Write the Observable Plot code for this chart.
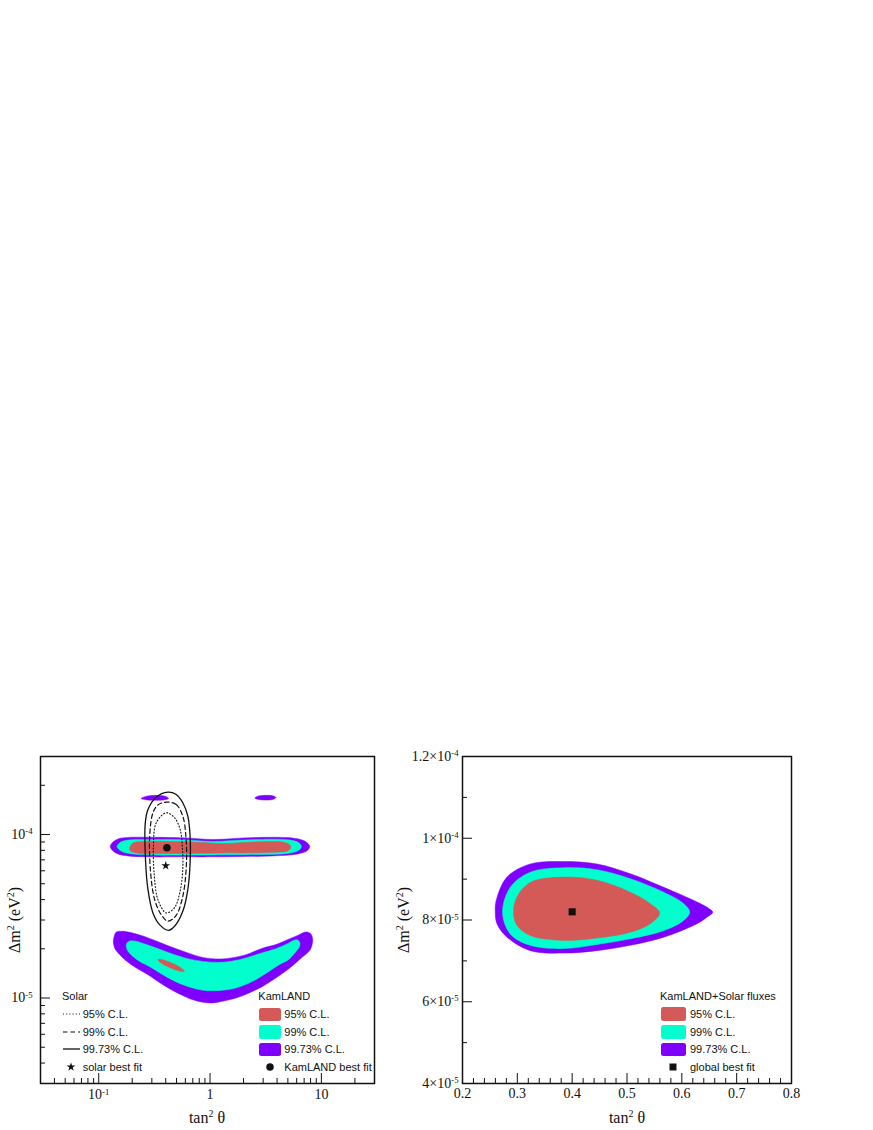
<!DOCTYPE html>
<html><head><meta charset="utf-8">
<script src="https://cdn.jsdelivr.net/npm/d3@7"></script>
<script src="https://cdn.jsdelivr.net/npm/@observablehq/plot@0.6"></script>
<style>
body{margin:0;background:#fff;}
#root{position:relative;width:873px;height:1130px;overflow:hidden;}
.abs{position:absolute;white-space:nowrap;}
.serif{font-family:"Liberation Serif","Times New Roman",serif;color:#111;}
.sans{font-family:"Liberation Sans",Arial,Helvetica,sans-serif;color:#111;}
sup{font-size:0.62em;vertical-align:0.6em;line-height:0;}
</style></head><body><div id="root"></div>
<script>
// ---------------- data (tan^2 theta, Delta m^2 in eV^2) ----------------
// Left panel: KamLAND allowed regions (upper island)
const kamUpper9973 = [[0.127,8.45e-5],[0.1331,8.93e-5],[0.149,9.4e-5],[0.183,9.6e-5],[0.277,9.62e-5],[0.569,9.55e-5],[1.057,9.32e-5],[1.96,9.52e-5],[3.64,9.62e-5],[5.50,9.52e-5],[6.76,9.24e-5],[7.49,8.87e-5],[7.86,8.45e-5],[7.49,7.98e-5],[6.10,7.60e-5],[3.64,7.40e-5],[1.96,7.33e-5],[1.057,7.30e-5],[0.569,7.30e-5],[0.277,7.30e-5],[0.183,7.40e-5],[0.149,7.6e-5],[0.1331,7.98e-5]];
const kamUpper99 = [[0.146,8.45e-5],[0.1586,9.0e-5],[0.195,9.28e-5],[0.307,9.32e-5],[0.569,9.3e-5],[1.057,9.06e-5],[1.963,9.24e-5],[3.642,9.36e-5],[5.28,9.24e-5],[6.22,8.93e-5],[6.62,8.45e-5],[6.22,7.98e-5],[4.96,7.66e-5],[2.96,7.55e-5],[1.057,7.5e-5],[0.569,7.49e-5],[0.307,7.49e-5],[0.195,7.62e-5],[0.1586,7.93e-5]];
const kamUpper95 = [[0.190,8.32e-5],[0.203,8.87e-5],[0.250,9.06e-5],[0.464,9.06e-5],[0.860,8.93e-5],[1.30,8.8e-5],[1.963,8.93e-5],[3.29,9.06e-5],[4.48,9.0e-5],[5.17,8.69e-5],[5.31,8.32e-5],[4.96,7.93e-5],[3.64,7.79e-5],[1.963,7.72e-5],[1.30,7.72e-5],[0.860,7.67e-5],[0.464,7.65e-5],[0.250,7.65e-5],[0.203,7.8e-5],[0.191,7.98e-5]];
const kamBlipLeft = [[0.2411,1.661e-4],[0.277,1.721e-4],[0.340,1.734e-4],[0.401,1.709e-4],[0.424,1.661e-4],[0.377,1.626e-4],[0.277,1.626e-4]];
const kamBlipRight = [[2.53,1.674e-4],[2.73,1.721e-4],[3.64,1.726e-4],[3.90,1.686e-4],[3.64,1.637e-4],[2.73,1.637e-4]];
// Left panel: KamLAND allowed regions (lower island)
const kamLower9973 = [[0.144,2.536e-5],[0.165,2.557e-5],[0.218,2.465e-5],[0.307,2.275e-5],[0.433,2.07e-5],[0.606,1.908e-5],[0.860,1.772e-5],[1.214,1.733e-5],[1.597,1.765e-5],[2.100,1.841e-5],[2.964,2.018e-5],[3.898,2.121e-5],[4.96,2.275e-5],[6.316,2.441e-5],[7.236,2.536e-5],[7.988,2.48e-5],[8.35,2.30e-5],[8.25,2.12e-5],[7.85,1.95e-5],[6.486,1.74e-5],[5.137,1.515e-5],[3.898,1.325e-5],[2.964,1.178e-5],[2.221,1.070e-5],[1.709,1.0e-5],[1.299,9.56e-6],[1.057,9.32e-6],[0.860,9.42e-6],[0.700,9.76e-6],[0.514,1.070e-5],[0.377,1.206e-5],[0.277,1.389e-5],[0.218,1.526e-5],[0.176,1.692e-5],[0.1545,1.841e-5],[0.140,2.004e-5],[0.1354,2.181e-5],[0.1374,2.373e-5]];
const kamLower99 = [[0.1778,2.150e-5],[0.191,2.234e-5],[0.2162,2.228e-5],[0.277,2.106e-5],[0.433,1.886e-5],[0.606,1.753e-5],[0.860,1.675e-5],[1.214,1.652e-5],[1.597,1.684e-5],[2.100,1.758e-5],[2.964,1.894e-5],[3.898,2.004e-5],[4.962,2.150e-5],[5.697,2.259e-5],[6.16,2.259e-5],[6.42,2.166e-5],[6.35,2.061e-5],[6.097,1.976e-5],[5.066,1.716e-5],[4.182,1.599e-5],[3.153,1.409e-5],[2.412,1.264e-5],[1.709,1.151e-5],[1.299,1.116e-5],[1.057,1.108e-5],[0.860,1.116e-5],[0.700,1.151e-5],[0.514,1.240e-5],[0.377,1.389e-5],[0.277,1.577e-5],[0.2333,1.675e-5],[0.195,1.841e-5],[0.180,1.976e-5]];
const kamLower95 = [[0.5887,1.457e-5],[0.5512,1.526e-5],[0.4568,1.633e-5],[0.3741,1.714e-5],[0.340,1.716e-5],[0.3634,1.637e-5],[0.4384,1.530e-5],[0.5354,1.459e-5]];
// Left panel: solar contours
const solar9973 = [[0.418,1.816e-4],[0.496,1.758e-4],[0.569,1.564e-4],[0.6315,1.295e-4],[0.662,9.76e-5],[0.662,6.71e-5],[0.6315,4.604e-5],[0.569,3.391e-5],[0.480,2.745e-5],[0.424,2.594e-5],[0.352,2.811e-5],[0.307,3.315e-5],[0.277,4.604e-5],[0.264,6.71e-5],[0.262,1.179e-4],[0.277,1.423e-4],[0.3265,1.686e-4]];
const solar99 = [[0.404,1.577e-4],[0.496,1.526e-4],[0.569,1.295e-4],[0.6097,9.32e-5],[0.6097,6.107e-5],[0.569,4.19e-5],[0.496,3.2e-5],[0.418,2.95e-5],[0.364,3.236e-5],[0.318,4.0e-5],[0.2927,5.83e-5],[0.287,9.76e-5],[0.307,1.358e-4],[0.340,1.516e-4]];
const solar95 = [[0.404,1.358e-4],[0.480,1.266e-4],[0.5385,1.073e-4],[0.566,8.09e-5],[0.569,6.107e-5],[0.5354,4.414e-5],[0.480,3.573e-5],[0.404,3.315e-5],[0.340,4.0e-5],[0.316,5.556e-5],[0.310,8.48e-5],[0.3285,1.179e-4]];
const solarBest = [[0.40,6.45e-5]];
const kamBest = [[0.41,8.3e-5]];
// Right panel: KamLAND + solar fluxes
const glob9973 = [[0.2597,8.19e-5],[0.2615,8.48e-5],[0.2811,9.05e-5],[0.3236,9.37e-5],[0.3844,9.43e-5],[0.4453,9.37e-5],[0.5061,9.13e-5],[0.5669,8.80e-5],[0.6279,8.44e-5],[0.646,8.31e-5],[0.6564,8.19e-5],[0.646,8.07e-5],[0.6279,7.91e-5],[0.5669,7.58e-5],[0.5061,7.38e-5],[0.4453,7.25e-5],[0.3844,7.19e-5],[0.3236,7.25e-5],[0.2811,7.58e-5],[0.2628,7.91e-5]];
const glob99 = [[0.2730,8.19e-5],[0.2871,8.80e-5],[0.3236,9.17e-5],[0.3844,9.28e-5],[0.4453,9.23e-5],[0.5061,9.01e-5],[0.5669,8.68e-5],[0.6034,8.40e-5],[0.6144,8.19e-5],[0.6034,7.99e-5],[0.5669,7.74e-5],[0.5061,7.54e-5],[0.4453,7.40e-5],[0.3844,7.30e-5],[0.3236,7.38e-5],[0.2871,7.66e-5]];
const glob95 = [[0.2931,8.17e-5],[0.2993,8.56e-5],[0.3236,8.92e-5],[0.3844,9.05e-5],[0.4453,8.97e-5],[0.5061,8.68e-5],[0.5426,8.40e-5],[0.5596,8.17e-5],[0.5426,7.91e-5],[0.5061,7.70e-5],[0.4453,7.56e-5],[0.3844,7.50e-5],[0.3236,7.62e-5],[0.2993,7.87e-5]];
const globBest = [[0.40,8.2e-5]];

// ticks and labels
const leftXMajor = [0.1, 1, 10];
const leftXLabels = ["10^-1", "1", "10"];
const leftXMinor = [0.04,0.05,0.06,0.07,0.08,0.09,0.2,0.3,0.4,0.5,0.6,0.7,0.8,0.9,2,3,4,5,6,7,8,9,20];
const leftYMajor = [1e-5, 1e-4];
const leftYLabels = ["10^-5", "10^-4"];
const leftYMinor = [4e-6,5e-6,6e-6,7e-6,8e-6,9e-6,2e-5,3e-5,4e-5,5e-5,6e-5,7e-5,8e-5,9e-5,2e-4];
const rightXMajor = [0.2,0.3,0.4,0.5,0.6,0.7,0.8];
const rightXLabels = ["0.2","0.3","0.4","0.5","0.6","0.7","0.8"];
const rightXMinor = [0.22,0.24,0.26,0.28,0.32,0.34,0.36,0.38,0.42,0.44,0.46,0.48,0.52,0.54,0.56,0.58,0.62,0.64,0.66,0.68,0.72,0.74,0.76,0.78];
const rightYMajor = [4e-5,6e-5,8e-5,1e-4,1.2e-4];
const rightYLabels = ["4×10^-5","6×10^-5","8×10^-5","1×10^-4","1.2×10^-4"];
const rightYMinor = [5e-5,7e-5,9e-5,1.1e-4];

const clLabels = ["95% C.L.", "99% C.L.", "99.73% C.L."];
const solarLegendTitle = "Solar", solarBestLabel = "solar best fit";
const kamLegendTitle = "KamLAND", kamBestLabel = "KamLAND best fit";
const globLegendTitle = "KamLAND+Solar fluxes", globBestLabel = "global best fit";
const xTitle = "tan<sup>2</sup> θ";
const yTitle = "Δm<sup>2</sup> (eV<sup>2</sup>)";

// ---------------- styles ----------------
const RED = "#d35a56", CYAN = "#00ffcc", PURPLE = "#7f00ff", INK = "#111";
const root = document.getElementById("root");
const PX = d => d[0], PY = d => d[1];
const region = (data, fill) => Plot.line(data, {x: PX, y: PY, curve: "catmull-rom-closed", fill, stroke: fill, strokeWidth: 0.5});
const contour = (data, dash, w) => Plot.line(data, {x: PX, y: PY, curve: "catmull-rom-closed", stroke: INK, strokeWidth: w, strokeDasharray: dash, fill: "none"});
const lookup = (vals, labs) => d => { const i = vals.findIndex(v => Math.abs(v - d) / d < 1e-6); return i < 0 ? "" : labs[i]; };

function supify(svg) {
  svg.querySelectorAll("text").forEach(t => {
    const s = t.textContent;
    t.setAttribute("font-size", "14");
    if (!s.includes("^")) return;
    const [b, e] = s.split("^");
    while (t.firstChild) t.removeChild(t.firstChild);
    t.appendChild(document.createTextNode(b));
    const ts = document.createElementNS("http://www.w3.org/2000/svg", "tspan");
    ts.setAttribute("dy", "-0.55em");
    ts.setAttribute("font-size", "0.62em");
    ts.textContent = e;
    t.appendChild(ts);
  });
}
function mount(svg, left, top) {
  const d = document.createElement("div");
  d.className = "abs"; d.style.left = left + "px"; d.style.top = top + "px";
  d.appendChild(svg); root.appendChild(d);
}
function text(html, x, cy, cls, size, center) {
  const d = document.createElement("div");
  d.className = "abs " + cls;
  d.style.fontSize = size + "px"; d.style.lineHeight = "14px";
  d.style.left = x + "px"; d.style.top = (cy - 7) + "px";
  if (center) d.style.transform = "translateX(-50%)";
  d.innerHTML = html; root.appendChild(d); return d;
}
function swatch(x, cy, w, h, color) {
  const d = document.createElement("div");
  d.className = "abs";
  Object.assign(d.style, {left: x + "px", top: (cy - h / 2) + "px", width: w + "px", height: h + "px", background: color, borderRadius: "2.5px"});
  root.appendChild(d);
}
function lineSample(x, cy, w, dash, sw) {
  const ns = "http://www.w3.org/2000/svg";
  const s = document.createElementNS(ns, "svg");
  s.setAttribute("width", w); s.setAttribute("height", 6);
  s.style.position = "absolute"; s.style.left = x + "px"; s.style.top = (cy - 3) + "px";
  const l = document.createElementNS(ns, "line");
  l.setAttribute("x1", 0); l.setAttribute("x2", w); l.setAttribute("y1", 3); l.setAttribute("y2", 3);
  l.setAttribute("stroke", INK); l.setAttribute("stroke-width", sw);
  if (dash) l.setAttribute("stroke-dasharray", dash);
  s.appendChild(l); root.appendChild(s);
}
function symbolSample(cx, cy, type, size) {
  const ns = "http://www.w3.org/2000/svg";
  const s = document.createElementNS(ns, "svg");
  s.setAttribute("width", 14); s.setAttribute("height", 14);
  s.style.position = "absolute"; s.style.left = (cx - 7) + "px"; s.style.top = (cy - 7) + "px";
  const p = document.createElementNS(ns, "path");
  p.setAttribute("d", d3.symbol(type, size)());
  p.setAttribute("transform", "translate(7,7)");
  p.setAttribute("fill", INK);
  s.appendChild(p); root.appendChild(s);
}

const axisStyle = {fontFamily: "'Liberation Serif','Times New Roman',serif", fontSize: "14px", background: "transparent", overflow: "visible", color: INK};

// ---------------- left panel ----------------
const LW = 380, LH = 390, LML = 40, LMR = 6, LMT = 16, LMB = 47;
const lfW = LW - LML - LMR, lfH = LH - LMT - LMB;
const left = Plot.plot({
  width: LW, height: LH, marginLeft: LML, marginRight: LMR, marginTop: LMT, marginBottom: LMB,
  style: axisStyle,
  x: {type: "log", domain: [0.03, 30], ticks: leftXMajor, tickFormat: lookup(leftXMajor, leftXLabels), tickSize: 0, tickPadding: 6, label: null},
  y: {type: "log", domain: [3e-6, 3e-4], ticks: leftYMajor, tickFormat: lookup(leftYMajor, leftYLabels), tickSize: 0, tickPadding: 8, label: null},
  marks: [
    region(kamUpper9973, PURPLE), region(kamUpper99, CYAN), region(kamUpper95, RED),
    region(kamBlipLeft, PURPLE), region(kamBlipRight, PURPLE),
    region(kamLower9973, PURPLE), region(kamLower99, CYAN), region(kamLower95, RED),
    contour(solar95, "1,2.2", 1.1), contour(solar99, "4.5,3", 1.2), contour(solar9973, null, 1.3),
    Plot.dot(solarBest, {x: PX, y: PY, symbol: "star", r: 2.8, fill: INK, stroke: "none"}),
    Plot.dot(kamBest, {x: PX, y: PY, r: 3.8, fill: INK, stroke: "none"}),
    Plot.tickX(leftXMinor, {x: d => d, insetTop: lfH - 5, stroke: INK, strokeWidth: 1}),
    Plot.tickX(leftXMajor, {x: d => d, insetTop: lfH - 10, stroke: INK, strokeWidth: 1}),
    Plot.tickY(leftYMinor, {y: d => d, insetRight: lfW - 5, stroke: INK, strokeWidth: 1}),
    Plot.tickY(leftYMajor, {y: d => d, insetRight: lfW - 10, stroke: INK, strokeWidth: 1}),
    Plot.frame({stroke: INK, strokeWidth: 1.5})
  ]
});
supify(left);
mount(left, 0, 740);

// ---------------- right panel ----------------
const RW = 410, RH = 390, RML = 72, RMR = 9, RMT = 16, RMB = 47;
const rfW = RW - RML - RMR, rfH = RH - RMT - RMB;
const right = Plot.plot({
  width: RW, height: RH, marginLeft: RML, marginRight: RMR, marginTop: RMT, marginBottom: RMB,
  style: axisStyle,
  x: {domain: [0.2, 0.8], ticks: rightXMajor, tickFormat: lookup(rightXMajor, rightXLabels), tickSize: 0, tickPadding: 5, label: null},
  y: {domain: [4e-5, 1.2e-4], ticks: rightYMajor, tickFormat: lookup(rightYMajor, rightYLabels), tickSize: 0, tickPadding: 4, label: null},
  marks: [
    region(glob9973, PURPLE), region(glob99, CYAN), region(glob95, RED),
    Plot.dot(globBest, {x: PX, y: PY, symbol: "square", r: 4, fill: INK, stroke: "none"}),
    Plot.tickX(rightXMinor, {x: d => d, insetTop: rfH - 5, stroke: INK, strokeWidth: 1}),
    Plot.tickX(rightXMajor, {x: d => d, insetTop: rfH - 10, stroke: INK, strokeWidth: 1}),
    Plot.tickY(rightYMinor, {y: d => d, insetRight: rfW - 5, stroke: INK, strokeWidth: 1}),
    Plot.tickY(rightYMajor, {y: d => d, insetRight: rfW - 10, stroke: INK, strokeWidth: 1}),
    Plot.frame({stroke: INK, strokeWidth: 1.5})
  ]
});
supify(right);
mount(right, 390, 740);

// ---------------- axis titles ----------------
text(xTitle, 207, 1118, "serif", 16, true);
text(xTitle, 627, 1118, "serif", 16, true);
for (const [cx, cy] of [[15, 919.5], [404, 919.5]]) {
  const d = document.createElement("div");
  d.className = "abs serif";
  Object.assign(d.style, {left: cx + "px", top: cy + "px", fontSize: "16px", lineHeight: "16px", transform: "translate(-50%,-50%) rotate(-90deg)"});
  d.innerHTML = yTitle; root.appendChild(d);
}

// ---------------- legends ----------------
const rows = [1014.3, 1032, 1049.4, 1066.8];
// Solar
text(solarLegendTitle, 62, 995.6, "sans", 11);
const solarDash = ["1,2.2", "4.5,3", null];
clLabels.forEach((lab, i) => { lineSample(63, rows[i], 17, solarDash[i], i === 2 ? 1.3 : 1.1); text(lab, 82.7, rows[i], "sans", 11); });
symbolSample(70.7, rows[3], d3.symbolStar, 24);
text(solarBestLabel, 82.7, rows[3], "sans", 11);
// KamLAND
text(kamLegendTitle, 258.3, 995.7, "sans", 11);
const fills = [RED, CYAN, PURPLE];
clLabels.forEach((lab, i) => { swatch(259.3, rows[i] - 0.1, 21.5, 13.4, fills[i]); text(lab, 284.3, rows[i], "sans", 11); });
symbolSample(270, rows[3], d3.symbolCircle, 44);
text(kamBestLabel, 284.3, rows[3], "sans", 11);
// Global
text(globLegendTitle, 660, 995.7, "sans", 11);
clLabels.forEach((lab, i) => { swatch(661, rows[i] - 0.1, 24.7, 13.6, fills[i]); text(lab, 690, rows[i], "sans", 11); });
symbolSample(673.3, rows[3] + 0.5, d3.symbolSquare, 49);
text(globBestLabel, 690, rows[3], "sans", 11);
</script></body></html>
